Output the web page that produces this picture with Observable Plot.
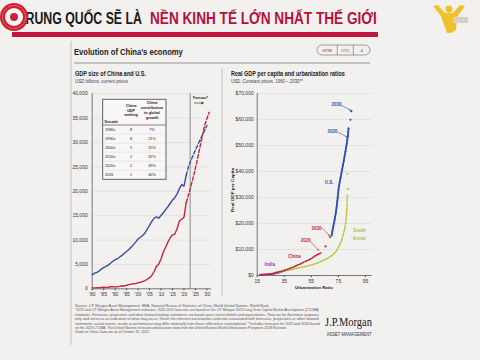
<!DOCTYPE html>
<html><head><meta charset="utf-8">
<script src="https://cdn.jsdelivr.net/npm/d3@7"></script>
<script src="https://cdn.jsdelivr.net/npm/@observablehq/plot@0.6"></script>
<style>
html,body{margin:0;padding:0;background:#f3f0f0;}
#page{position:relative;width:480px;height:360px;overflow:hidden;}
#page > svg{position:absolute;}
</style></head><body><div id="page"></div>
<script>
// ---------- DATA: GDP size of China and U.S. (USD billions) ----------
const histYears = [1980,1981,1982,1983,1984,1985,1986,1987,1988,1989,1990,1991,1992,1993,1994,1995,1996,1997,1998,1999,2000,2001,2002,2003,2004,2005,2006,2007,2008,2009,2010,2011,2012,2013,2014,2015,2016,2017,2018,2019,2020,2021];
const usGdp = [2857,3207,3343,3634,4037,4339,4580,4855,5236,5642,5963,6158,6520,6859,7287,7640,8073,8578,9063,9631,10251,10582,10929,11457,12217,13039,13816,14474,14770,14478,15049,15600,16254,16843,17551,18206,18695,19477,20533,21381,21060,23315];
const chinaGdp = [191,196,205,231,260,309,301,327,408,457,396,414,493,619,564,734,864,962,1029,1094,1211,1339,1471,1660,1955,2286,2752,3550,4594,5102,6087,7552,8532,9570,10476,11062,11233,12310,13895,14280,14688,17734];
const usFcYears = [2021,2022,2023,2024,2025,2026,2027,2028,2029,2030];
const usFcGdp = [23315,25100,26300,27400,28500,29500,30500,31500,32500,33500];
const chinaFcYears = [2021,2022,2023,2024,2025,2026,2027,2028,2029,2030,2031];
const chinaFcGdp = [17734,19300,21000,22800,24800,26900,29100,31300,33500,34900,36200];
const forecastStart = 2022.7;
const yearTicks = [1980,1985,1990,1995,2000,2005,2010,2015,2020,2025,2030];
const yearTickLabels = ["'80","'85","'90","'95","'00","'05","'10","'15","'20","'25","'30"];
const gdpTicks = [0,5000,10000,15000,20000,25000,30000,35000,40000];

// ---------- DATA: inset table ----------
const tableDecades = ["1980s","1990s","2000s","2010s","2020s","2031"];
const tableRanks = ["8","8","5","2","2","1"];
const tableContrib = ["7%","21%","15%","32%","39%","40%"];

// ---------- DATA: Real GDP per capita vs urbanization ----------
const indiaUrb = [17.9,18.3,18.8,19.3,19.9,20.6,21.4,22.3,23.1,23.9,24.7,25.5,26.2,27.0,27.8,28.6,29.6,30.6,31.6,32.6,33.6,34.5,35.4];
const indiaPc = [330,340,345,360,370,380,400,420,440,460,490,540,590,650,720,800,930,1050,1200,1350,1550,1750,1950];
const chinaUrb = [17,18,19,20,21.5,23,24.5,26,27.3,28.5,30,31.5,33,34.7,36,37.5,39,40.5,42,43.5,45,47,49,51,53,54.5,56,57.5,59,60.5,61.8];
const chinaPc = [250,280,320,360,420,500,600,720,900,1050,1250,1450,1650,1900,2150,2400,2700,3000,3350,3700,4050,4500,5000,5500,6000,6400,6900,7400,7900,8300,8600];
const chinaFcUrb = [65.5,68.8];
const chinaFcPc = [11200,14800];
const koreaUrb = [27.7,29,30.5,32,34,36,38,40,42,44,46,48,50,52,54,56,58,60,62,64,66,68,70,71.5,73,74,75,76,77,77.8,78.5,79.2,79.8,80.3,80.7,81,81.2,81.4,81.5,81.6];
const koreaPc = [1100,1200,1300,1450,1600,1800,2000,2200,2450,2700,2950,3150,3400,3650,3900,4200,4550,4950,5400,5900,6400,6950,7600,8300,9100,9900,10800,11900,13000,14200,15500,16900,18400,20000,21700,23500,25300,27200,29000,30800];
const koreaFcUrb = [81.9,81.7];
const koreaFcPc = [33300,39100];
const usUrb = [70.0,70.3,70.6,71.0,71.4,71.8,72.2,72.6,73.0,73.3,73.6,73.9,74.2,74.5,74.8,75.1,75.5,76.0,76.6,77.2,77.8,78.4,79.0,79.6,80.2,80.7,81.2,81.6,82.0,82.3,82.5];
const usPc = [15400,16200,17200,18300,19300,20300,21400,22600,23700,24800,26000,27200,28600,30000,31500,33000,34500,36000,37600,39200,40800,42500,44200,45900,47600,49200,50700,52200,53700,55200,56600];
const usFcUrb = [83.9,84.6];
const usFcPc = [59900,63200];
const urbTicks = [15,35,55,75,95];
const pcTicks = [0,10000,20000,30000,40000,50000,60000,70000];

// annotation labels (data coordinates)
const labels = [
  {t:"India", u:24.2, g:4300, c:"#8b3fc2"},
  {t:"China", u:42.5, g:7400, c:"#c4253f"},
  {t:"2020", u:50.8, g:13600, c:"#c4253f"},
  {t:"2030", u:58.8, g:18200, c:"#c4253f"},
  {t:"U.S.", u:68.1, g:35600, c:"#2b50b0"},
  {t:"2020", u:70.6, g:55500, c:"#2b50b0"},
  {t:"2030", u:73.6, g:65900, c:"#2b50b0"}
];
const arrows = [
  {u1:54.9,g1:12800,u2:60.3,g2:9700,c:"#c4253f"},
  {u1:63,g1:18300,u2:68.3,g2:15400,c:"#c4253f"},
  {u1:75.2,g1:55000,u2:81.2,g2:53300,c:"#2b50b0"},
  {u1:77.3,g1:65400,u2:83.9,g2:63600,c:"#2b50b0"}
];

const FONT = '"Liberation Sans Narrow","Liberation Sans",Arial,sans-serif';
const US_BLUE = "#34509c", CN_RED = "#c4253f";
const page = document.getElementById("page");

const zip = (xs, ys, kx, ky) => xs.map((v,i)=>({[kx]:v,[ky]:ys[i]}));
const usHist = zip(histYears, usGdp, "year", "gdp");
const cnHist = zip(histYears, chinaGdp, "year", "gdp");
const usFc = zip(usFcYears, usFcGdp, "year", "gdp");
const cnFc = zip(chinaFcYears, chinaFcGdp, "year", "gdp");

// ---------- LEFT CHART ----------
const left = Plot.plot({
  width: 160, height: 220,
  marginLeft: 31.7, marginRight: 9, marginTop: 8.3, marginBottom: 16.7,
  style: {background: "transparent", fontSize: "5px", fontFamily: FONT, color: "#333"},
  x: {domain: [1980, 2032], ticks: yearTicks, tickFormat: d => yearTickLabels[yearTicks.indexOf(d)], tickSize: 2, tickPadding: 1.5, label: null},
  y: {domain: [0, 40000], ticks: gdpTicks, tickFormat: d3.format(","), tickSize: 0, tickPadding: 4.5, label: null},
  marks: [
    Plot.ruleY(gdpTicks.slice(1), {stroke: "#e0dbdb", strokeWidth: 0.7}),
    Plot.ruleX([forecastStart], {y1: 0, y2: 40000, stroke: "#8a8a8a", strokeWidth: 1}),
    Plot.ruleY([0], {stroke: "#777", strokeWidth: 1}),
    Plot.ruleX([1980], {y1: 0, y2: 40000, stroke: "#777", strokeWidth: 1}),
    Plot.line(usHist, {x: "year", y: "gdp", stroke: US_BLUE, strokeWidth: 1.4}),
    Plot.line(cnHist, {x: "year", y: "gdp", stroke: CN_RED, strokeWidth: 1.4}),
    Plot.line(usFc, {x: "year", y: "gdp", stroke: US_BLUE, strokeWidth: 1.4, strokeDasharray: "3.5,2.2"}),
    Plot.line(cnFc, {x: "year", y: "gdp", stroke: CN_RED, strokeWidth: 1.4, strokeDasharray: "3.5,2.2"})
  ]
});
left.style.left = "60px"; left.style.top = "85px";
page.appendChild(left);

// ---------- RIGHT CHART ----------
const pc = (xs, ys) => zip(xs, ys, "u", "g");
const series = [
  {d: pc(indiaUrb, indiaPc), c: "#8b3fc2"},
  {d: pc(koreaUrb, koreaPc), c: "#b3cc3c"},
  {d: pc(chinaUrb, chinaPc), c: CN_RED},
  {d: pc(usUrb, usPc), c: "#2b50b0"}
];
const fcDots = [
  {d: pc(chinaFcUrb, chinaFcPc), c: CN_RED},
  {d: pc(koreaFcUrb, koreaFcPc), c: "#b3cc3c"},
  {d: pc(usFcUrb, usFcPc), c: "#2b50b0"}
];
const right = Plot.plot({
  width: 150, height: 210,
  marginLeft: 31.7, marginRight: 3.3, marginTop: 8, marginBottom: 20,
  style: {background: "transparent", fontSize: "5px", fontFamily: FONT, color: "#333"},
  x: {domain: [15, 100], ticks: urbTicks, tickSize: 2, tickPadding: 1.5, label: null},
  y: {domain: [0, 70000], ticks: pcTicks, tickFormat: d => "$" + d3.format(",")(d), tickSize: 0, tickPadding: 3.5, label: null},
  marks: [
    Plot.ruleY(pcTicks.slice(1), {stroke: "#e0dbdb", strokeWidth: 0.7}),
    Plot.ruleY([0], {stroke: "#777", strokeWidth: 1}),
    Plot.ruleX([15], {y1: 0, y2: 70000, stroke: "#777", strokeWidth: 1}),
    ...series.flatMap(s => [
      Plot.line(s.d, {x: "u", y: "g", stroke: s.c, strokeWidth: s.c === "#2b50b0" ? 1.8 : 1.1}),
      Plot.dot(s.d, {x: "u", y: "g", fill: s.c, r: 0.9})
    ]),
    ...fcDots.map(s => Plot.dot(s.d, {x: "u", y: "g", fill: s.c, r: 1.1})),
    Plot.arrow(arrows, {x1: "u1", y1: "g1", x2: "u2", y2: "g2", stroke: "c", strokeWidth: 0.6, headLength: 2.5}),
    Plot.text(labels, {x: "u", y: "g", text: "t", fill: "c", fontWeight: "bold", fontSize: 4.5}),
    Plot.text(["South", "Korea"], {x: 85.8, y: (d, i) => 17300 - i * 3000, text: d => d, fill: "#a9c23a", fontWeight: "bold", fontSize: 4.5, textAnchor: "start"})
  ]
});
right.style.left = "225px"; right.style.top = "85px";
page.appendChild(right);

// ---------- OVERLAY (banner, slide titles, table, notes) ----------
const ov = d3.create("svg").attr("width", 480).attr("height", 360)
  .style("left", "0px").style("top", "0px").attr("font-family", FONT);
page.appendChild(ov.node());
const toFit = [];
function T(x, y, s, o = {}) {
  const t = ov.append("text").attr("x", x).attr("y", y).text(s)
    .attr("font-size", o.size || 5).attr("fill", o.fill || "#222");
  if (o.bold) t.attr("font-weight", "bold");
  if (o.anchor) t.attr("text-anchor", o.anchor);
  if (o.family) t.attr("font-family", o.family);
  if (o.rotate) t.attr("transform", `rotate(${o.rotate},${x},${y})`);
  if (o.len) toFit.push({t, x, y, len: o.len, rotate: o.rotate});
  return t;
}
const L = (x1, y1, x2, y2, c, w) => ov.append("line").attr("x1", x1).attr("y1", y1).attr("x2", x2).attr("y2", y2).attr("stroke", c).attr("stroke-width", w);

// banner
T(18, 24, "TRUNG QUỐC SẼ LÀ", {size: 17, bold: true, len: 124, fill: "#1a1a1a"});
T(150, 24, "NỀN KINH TẾ LỚN NHẤT THẾ GIỚI", {size: 17, bold: true, len: 227, fill: "#b0143c"});
ov.append("rect").attr("x", 12).attr("y", 32).attr("width", 366).attr("height", 5).attr("fill", "#c0163e");
// left logo
ov.append("circle").attr("cx", 14).attr("cy", 17).attr("r", 14).attr("fill", "#d0202e");
ov.append("circle").attr("cx", 14).attr("cy", 17).attr("r", 9).attr("fill", "#f6f2f2");
ov.append("circle").attr("cx", 14).attr("cy", 17).attr("r", 4).attr("fill", "#c0283a");
ov.append("circle").attr("cx", 14).attr("cy", 17).attr("r", 11.5).attr("fill", "none").attr("stroke", "#f6e0e0").attr("stroke-width", 0.6).attr("stroke-dasharray", "1.5,1");
// right logo (yellow figure)
ov.append("circle").attr("cx", 449).attr("cy", 9).attr("r", 3.5).attr("fill", "#eec22a");
ov.append("path").attr("d", "M433,6 L438,5 L445,13 L453,13 L460,5 L465,6 L457,17 L456,30 L451,33 L447,33 L443,22 L441,16 Z").attr("fill", "#eec22a");
ov.append("rect").attr("x", 453).attr("y", 17).attr("width", 15).attr("height", 6).attr("fill", "#d8d0c8");

// slide frame + title
L(71, 41, 71, 345, "#c6c0c0", 1);
T(74, 55, "Evolution of China’s economy", {size: 9, bold: true, len: 109, fill: "#222"});
ov.append("rect").attr("x", 317).attr("y", 45).attr("width", 53).attr("height", 10).attr("rx", 5).attr("fill", "none").attr("stroke", "#666").attr("stroke-width", 0.6);
L(337.3, 45, 337.3, 55, "#666", 0.6); L(353.3, 45, 353.3, 55, "#666", 0.6);
T(327, 51.8, "GTM", {size: 4.2, anchor: "middle", fill: "#444"});
T(345.3, 51.8, "CTC", {size: 4.2, anchor: "middle", fill: "#444"});
T(361.6, 51.8, "4", {size: 4.2, anchor: "middle", fill: "#444"});
L(74, 63, 370, 63, "#9a9595", 1);

// chart titles
T(75, 76, "GDP size of China and U.S.", {size: 6.5, bold: true, len: 71});
T(75, 83, "USD billions, current prices", {size: 4.8, len: 53, fill: "#444"});
T(231, 76, "Real GDP per capita and urbanization ratios", {size: 6.5, bold: true, len: 114});
T(231, 83, "USD, Constant prices, 1960 – 2030**", {size: 4.8, len: 72, fill: "#444"});
L(222, 68, 222, 296, "#bdb7b7", 0.8);

// forecast label
T(193, 99, "Forecast*", {size: 4.2, bold: true, len: 15});
L(194, 103, 202, 103, "#222", 0.6);
ov.append("path").attr("d", "M204,103 L201.5,101.6 L201.5,104.4 Z").attr("fill", "#222");

// axis titles right chart
T(234.5, 190, "Real GDP per Capita", {size: 4.3, bold: true, anchor: "middle", rotate: -90, len: 44});
T(314, 289, "Urbanization Ratio", {size: 4.3, bold: true, anchor: "middle", len: 38});

// inset table
const tx0 = 102.7, ty0 = 99.3, tx1 = 166, ty1 = 179.3, th = 125;
ov.append("rect").attr("x", tx0).attr("y", ty0).attr("width", tx1 - tx0).attr("height", ty1 - ty0).attr("fill", "#f8f6f6").attr("stroke", "#555").attr("stroke-width", 0.9);
L(tx0, th, tx1, th, "#555", 0.7);
T(104.5, 123, "Decade", {size: 3.8, bold: true});
["China", "GDP", "ranking"].forEach((s, i) => T(131, 107 + i * 4.5, s, {size: 3.8, bold: true, anchor: "middle"}));
["China", "contribution", "to global", "growth"].forEach((s, i) => T(152, 104 + i * 5, s, {size: 3.8, bold: true, anchor: "middle"}));
const rowH = (ty1 - th) / tableDecades.length;
tableDecades.forEach((dcd, i) => {
  const yc = th + rowH * (i + 0.5) + 1.4;
  if (i > 0) L(tx0 + 1.5, th + rowH * i, tx1 - 1.5, th + rowH * i, "#d8d2d2", 0.4);
  T(105, yc, dcd, {size: 3.8});
  T(131, yc, tableRanks[i], {size: 3.8, anchor: "middle"});
  T(152, yc, tableContrib[i], {size: 3.8, anchor: "middle"});
});

// footnotes
const notes = [
  ["Source: J.P. Morgan Asset Management; BEA, National Bureau of Statistics of China, World United Nations, World Bank.", 195],
  ["*2022 and J.P. Morgan Asset Management estimates. 2023-2031 forecasts are based on the J.P. Morgan 2023 Long-Term Capital Market Assumptions (LTCMA)", 245],
  ["estimates. Forecasts, projections and other forward looking statements are based upon current beliefs and expectations. They are for illustrative purposes", 245],
  ["only and serve as an indication of what may occur. Given the inherent uncertainties and risks associated with forecasts, projections or other forward", 245],
  ["statements, actual events, results or performance may differ materially from those reflected or contemplated. **Includes forecasts for 2025 and 2030 based", 245],
  ["on the 2023 LTCMA. The United Nations forecasts urbanization ratios from the United Nations World Urbanization Prospects 2018 Revision.", 212],
  ["Guide to China. Data are as of October 31, 2022.", 75]
];
notes.forEach(([s, w], i) => T(75, 307 + i * 4.4, s, {size: 3.3, len: w, fill: "#555"}));

// J.P. Morgan logo
T(325, 326.5, "J.P.Morgan", {size: 13, len: 47, family: '"Liberation Serif","DejaVu Serif",serif', fill: "#1a1a1a"});
T(326.7, 335.7, "ASSET MANAGEMENT", {size: 4.6, len: 45, fill: "#333"});

// fit texts to target widths with a horizontal scale (keeps real text, exact boxes)
toFit.forEach(({t, x, y, len, rotate}) => {
  const nat = t.node().getComputedTextLength();
  if (!nat) return;
  const s = len / nat;
  const base = rotate ? `rotate(${rotate},${x},${y}) ` : "";
  t.attr("transform", `${base}translate(${x},${y}) scale(${s},1) translate(${-x},${-y})`);
});
</script></body></html>
